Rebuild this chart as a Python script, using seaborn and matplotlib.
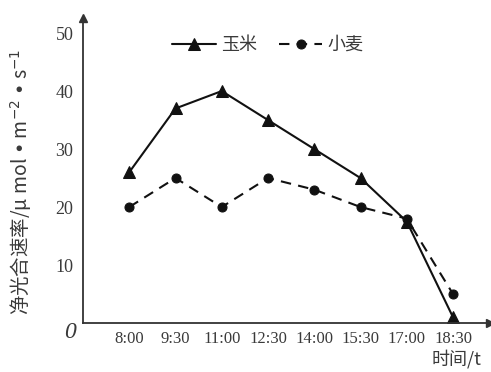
import matplotlib
matplotlib.use("Agg")
import matplotlib.pyplot as plt
import seaborn as sns
import pandas as pd

times = ["8:00", "9:30", "11:00", "12:30", "14:00", "15:30", "17:00", "18:30"]
corn = [26, 37, 40, 35, 30, 25, 17.5, 1]
wheat = [20, 25, 20, 25, 23, 20, 18, 5]
yticks = [10, 20, 30, 40, 50]

sns.set_theme(style="white")
plt.rcParams["font.family"] = ["Liberation Serif", "Noto Sans CJK SC"]
cjk = ["Noto Sans CJK SC", "DejaVu Sans"]

ink = "#111111"
txt = "#3a3a3a"

df = pd.DataFrame({"时间": times, "玉米": corn, "小麦": wheat})

fig = plt.figure(figsize=(4.91, 3.72), dpi=100)
ax = fig.add_axes([83 / 491, 49 / 372, (490 - 83) / 491, (354 - 49) / 372])

sns.lineplot(data=df, x="时间", y="玉米", ax=ax, color=ink, lw=1.5,
             marker="^", markersize=9, markeredgecolor=ink, label="玉米", sort=False)
sns.lineplot(data=df, x="时间", y="小麦", ax=ax, color=ink, lw=1.5,
             linestyle=(0, (5, 3.5)), marker="o", markersize=6.5,
             markeredgecolor=ink, label="小麦", sort=False)

ax.set_xlim(-1.0, 7.8)
ax.set_ylim(0, 52.6)
ax.set_yticks(yticks)
ax.set_yticklabels([str(v) for v in yticks], fontsize=13, color=txt)
ax.set_xticks(range(len(times)))
ax.set_xticklabels(times, fontsize=12, color=txt)
ax.set_xlabel("")
ax.set_ylabel("")

for side in ("top", "right"):
    ax.spines[side].set_visible(False)
for side in ("left", "bottom"):
    ax.spines[side].set_color("#333333")
    ax.spines[side].set_linewidth(1.3)
ax.tick_params(axis="both", direction="in", length=5, width=1.0, colors="#333333")
ax.tick_params(axis="y", pad=7, labelcolor=txt)
ax.tick_params(axis="x", pad=6, labelcolor=txt)

# arrow heads at the ends of the axes
ax.plot(1, 0, ">", transform=ax.transAxes, color="#333333", markersize=6, clip_on=False)
ax.plot(0, 1, "^", transform=ax.transAxes, color="#333333", markersize=6, clip_on=False)

leg = ax.legend(loc="center", bbox_to_anchor=((268 - 83) / 407, (372 - 45 - 49) / 305),
                ncol=2, frameon=False, handlelength=2.4, columnspacing=1.2,
                handletextpad=0.3, prop={"family": cjk, "size": 13})
for t in leg.get_texts():
    t.set_color(txt)

fig.text(21 / 491, 1 - 182 / 372, "净光合速率/μ mol • m$^{-2}$ • s$^{-1}$", rotation=90,
         ha="center", va="center", fontsize=14, color=txt, family=cjk)
fig.text(70 / 491, 1 - 333 / 372, "0", fontsize=17, style="italic", color=txt,
         ha="center", va="center", family="Liberation Serif")
fig.text(456 / 491, 1 - 359 / 372, "时间/t", fontsize=13, color=txt,
         ha="center", va="center", family=cjk)

fig.savefig("out.png", dpi=100)
